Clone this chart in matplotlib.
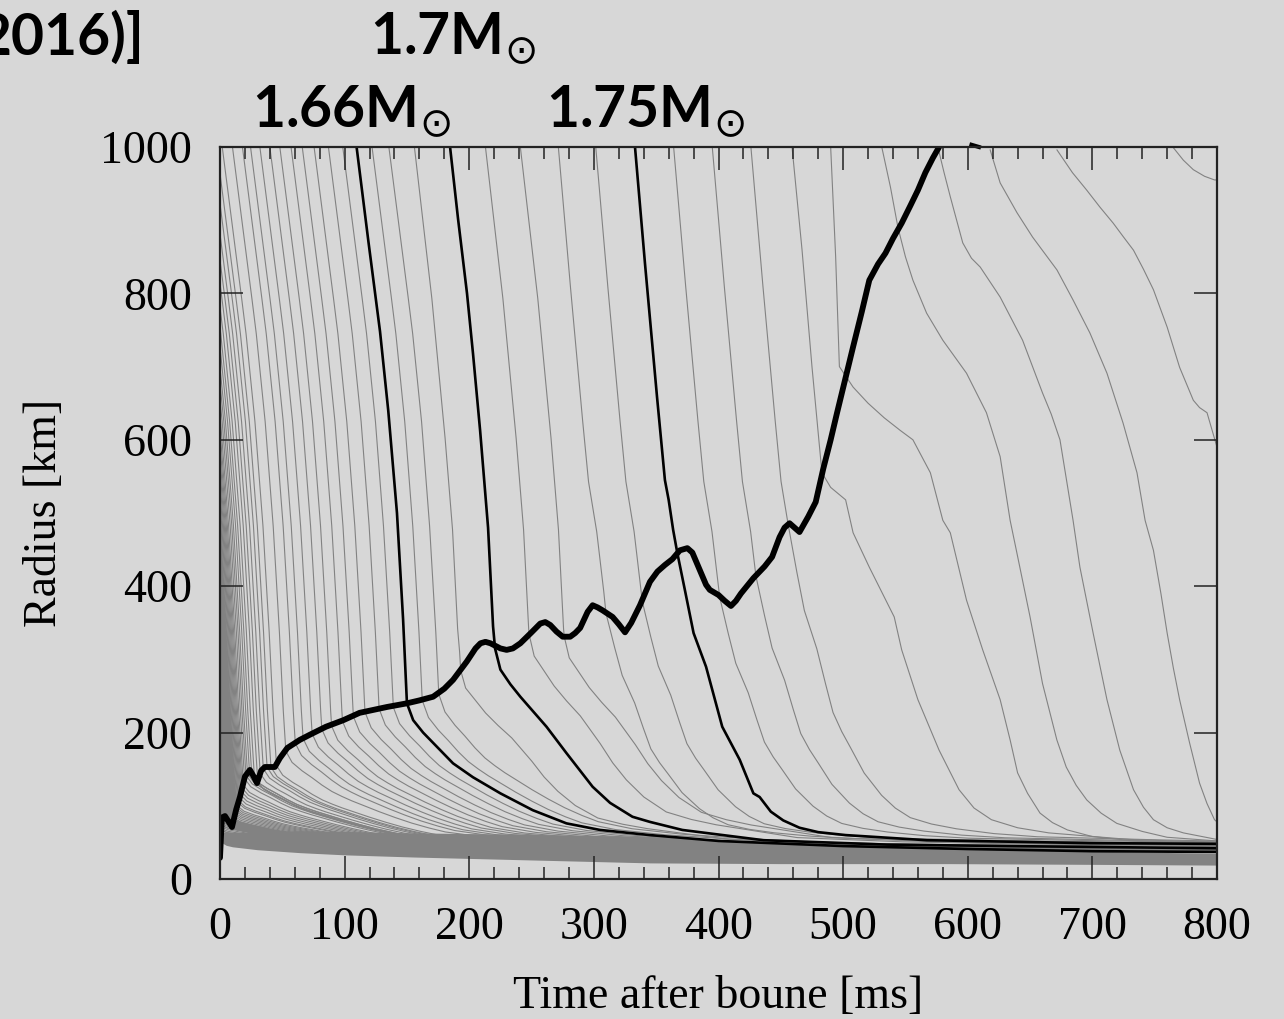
import numpy as np
import matplotlib
matplotlib.use("Agg")
import matplotlib.pyplot as plt
from matplotlib.ticker import MultipleLocator

# ---------------- data ----------------
# shock radius [km] vs time after bounce [ms]
shock_t = [0, 1.5, 4, 7, 9.6, 13, 16, 20, 24, 27, 29.7, 33, 36, 44, 48, 54, 64, 72, 85, 99, 112, 134,
           150, 160, 171, 180, 187, 198, 205, 209, 213, 217, 225, 230, 235, 241, 250, 257, 261, 265,
           270, 275, 281, 285, 289, 295, 299, 303, 307, 315, 320, 325, 330, 337, 345, 351, 357, 363,
           369, 375, 379, 385, 390, 393, 400, 405, 410, 414, 418, 428, 437, 443, 449, 453, 457, 461,
           465, 472, 478, 484, 490, 495, 502, 508, 515, 521, 528, 534, 540, 547, 554, 560, 566, 572, 577]
shock_r = [29, 84, 86, 78, 71, 95, 112, 140, 149, 140, 131, 148, 153, 153, 165, 179, 190, 197, 208, 217, 227, 235,
           240, 244, 249, 260, 272, 297, 315, 322, 324, 322, 315, 313, 315, 322, 337, 349, 351, 347,
           338, 331, 331, 336, 343, 365, 374, 371, 367, 358, 348, 337, 350, 374, 406, 420, 429, 437,
           449, 452, 446, 422, 402, 395, 388, 380, 373, 380, 390, 411, 427, 440, 467, 480, 486, 480,
           474, 495, 515, 560, 600, 636, 685, 727, 775, 818, 840, 855, 875, 896, 920, 941, 965, 985, 1000]

# labelled (black) mass shells
m166_t = [109.6, 119, 128.4, 135, 142, 146.9, 150, 155, 163, 171, 187, 203, 225, 251, 278, 305, 345, 400, 500, 600, 700, 800]
m166_r = [1000, 872, 748, 640, 500, 355, 240, 217, 200, 186, 158, 139, 117, 94, 76, 67, 60, 52, 45, 41, 38, 37]
m170_t = [184.6, 191, 198.2, 203, 208.7, 215.1, 219.1, 220.7, 225, 233, 241, 262, 278, 299, 313, 331, 345, 371, 436, 535, 632, 800]
m170_r = [1000, 902, 800, 718, 613, 480, 345, 315, 286, 266, 249, 208, 172, 126, 104, 85, 78, 67, 53, 47, 45, 42]
m175_t = [333, 341, 350.7, 357, 360, 363.6, 367, 373, 380, 390, 403, 417, 428, 433, 442, 452, 465, 480, 502, 567, 698, 800]
m175_r = [1000, 841, 658, 545, 518, 477, 445, 395, 336, 290, 208, 163, 117, 112, 92, 80, 70, 64, 60, 53, 49, 48]
m180_t = [603, 609]
m180_r = [1003, 1000]

# grey shells: radius at bounce for shells already inside 1000 km (left edge)
fan_r0 = [964, 923, 882, 846, 814, 781, 754, 727, 699, 677, 655, 634, 614, 595, 577, 560, 544, 529,
          515, 501, 488, 476, 464, 453, 442, 432, 422, 412, 403, 394, 386, 378, 370, 362, 355, 348,
          341, 334, 328, 322, 316, 310, 304, 299, 294, 289, 284, 279, 274, 270, 266, 262, 258, 254,
          250, 246, 242, 238, 235, 232, 229, 226, 223, 220, 217, 214, 211, 208, 205, 202, 199, 196,
          193, 190, 187, 184, 181, 178, 175, 172, 169, 166, 163, 160, 157, 154, 151, 148, 145, 142,
          139, 136, 133, 130, 127, 124, 121, 118, 115, 112, 109, 106, 103, 100, 97, 94, 91]
# grey shells: time they pass 1000 km after bounce [ms]
gray_t0 = [1.8, 10, 18, 24.5, 32, 40, 48, 57, 66, 75.5, 87, 98.5, 122, 135.5, 156,
           213, 241, 271.5, 301.5, 364, 395, 426]

# infall shapes (time since passing 1000 km -> radius), read from the black shells
infall166_dt = [0, 10, 18.8, 26, 32.4, 37.3, 40.4, 43, 45.5, 47.5]
infall166_r = [1000, 868, 750, 630, 490, 350, 240, 170, 100, 40]
infall170_dt = [0, 13.6, 24.1, 30.5, 34.5, 36.1, 40, 43]
infall170_r = [1000, 800, 613, 480, 345, 315, 200, 100]
infall175_dt = [0, 8, 17.7, 24, 30.6, 36, 42, 48]
infall175_r = [1000, 841, 658, 545, 477, 400, 300, 200]

# settling shapes behind the shock (fraction of height above floor), read from the black shells
settle166_dt = [0, 5, 13, 21, 29, 37, 45, 53, 64, 75, 88, 101, 115, 128, 155, 195, 250, 300, 450, 800]
settle166_f = [1, 0.885, 0.80, 0.73, 0.655, 0.59, 0.54, 0.495, 0.44, 0.385, 0.325, 0.27, 0.22, 0.18,
               0.135, 0.1, 0.07, 0.05, 0.02, 0.0]
settle170_dt = [0, 4, 12, 20, 30, 41, 49, 57, 67, 78, 92, 110, 130, 150, 215, 300, 400, 800]
settle170_f = [1, 0.9, 0.83, 0.76, 0.69, 0.62, 0.555, 0.49, 0.40, 0.32, 0.24, 0.17, 0.135, 0.11,
               0.05, 0.03, 0.02, 0.0]
settle175_dt = [0, 7, 13, 23, 30, 36, 43, 50, 61, 75, 86, 98, 115, 135, 165, 200, 300, 430, 800]
settle175_f = [1, 0.85, 0.73, 0.61, 0.50, 0.41, 0.35, 0.30, 0.22, 0.15, 0.11, 0.08, 0.06, 0.045,
               0.03, 0.02, 0.01, 0.0, 0.0]
floor166, floor170, floor175 = 40, 42, 49

# late grey shells read one by one
shV_t = [459, 467, 475, 483, 490, 502, 508, 521, 531, 541, 547, 560, 577, 593, 605, 619, 640, 665, 730, 800]
shV_r = [1000, 860, 700, 555, 535, 518, 473, 426, 392, 358, 313, 245, 176, 122, 97, 81, 70, 63, 54, 50]
shU_t = [490, 494, 497, 508, 520, 533, 545.7, 556, 570, 580, 586, 599, 612, 626, 634, 640, 648, 658, 668,
         680, 700, 733, 800]
shU_r = [1000, 850, 700, 672, 650, 630, 613, 600, 555, 490, 473, 381, 313, 245, 190, 145, 117, 90, 77,
         67, 58, 52, 47]
shT_t = [531, 538, 544, 550, 556, 567, 580, 599, 615, 626, 634, 639, 650, 660, 671.5, 679, 687, 695.5,
         707, 719.6, 740, 760, 800]
shT_r = [1000, 945, 890, 850, 818, 773, 736, 691, 637, 577, 490, 449, 358, 267, 190, 153, 128, 108,
         90, 76, 65, 57, 52]
shS_t = [576, 581, 586, 596, 603, 610, 626, 644, 660, 667, 674, 684.5, 690, 700.6, 711.7, 722, 733,
         741, 749, 760, 773, 800]
shS_r = [1000, 965, 932, 869, 848, 836, 795, 736, 664, 635, 600, 490, 426, 336, 245, 176, 122,
         98, 81, 70, 63, 54]
shP_t = [618, 626, 639.6, 652, 671.6, 684.5, 698, 711.7, 724.6, 735.8, 742.3, 749, 755, 760, 765,
         770, 778, 786, 792, 798, 800]
shP_r = [996, 951, 910, 877, 832, 791, 746, 691, 623, 555, 490, 449, 390, 336, 288, 245, 186, 131,
         103, 81, 78]
shQ_t = [671.6, 684, 695.5, 706, 716.7, 725, 733, 741, 749, 760, 770, 781, 786, 792, 800]
shQ_r = [996, 965, 941, 918, 896, 877, 859, 833, 805, 754, 699, 654, 644, 637, 590]
shR_t = [765, 773, 781, 790, 798, 800]
shR_r = [999, 982, 969, 960, 955, 955]

# dense settled layer at the bottom
band_t = [1, 5, 10, 30, 64, 100, 156, 250, 345, 450, 586, 700, 800]
band_lo = [50, 46, 44, 40, 36, 33, 30, 26, 22, 21, 21, 20, 19]
band_hi = [62, 64, 64, 64, 66, 65, 63, 61, 58, 50, 42, 38, 35]

x_ticks = [0, 100, 200, 300, 400, 500, 600, 700, 800]
y_ticks = [0, 200, 400, 600, 800, 1000]
mass_labels = ["1.7M$_{\\odot}$", "1.66M$_{\\odot}$", "1.75M$_{\\odot}$"]
ref_label = "2016)]"
x_label = "Time after boune [ms]"
y_label = "Radius [km]"

# ---------------- drawing ----------------
BG = "#d7d7d7"
GREY = "#828282"
W, H = 1284, 1019
fig = plt.figure(figsize=(W / 100, H / 100), dpi=100, facecolor=BG)
ax = fig.add_axes([220 / W, (H - 879) / H, (1217 - 220) / W, (879 - 147) / H])
ax.set_facecolor(BG)


def shell_path(t0):
    if t0 < 147:
        idt, ir, sdt, sf, fl = infall166_dt, infall166_r, settle166_dt, settle166_f, floor166
    elif t0 < 259:
        idt, ir, sdt, sf, fl = infall170_dt, infall170_r, settle170_dt, settle170_f, floor170
    else:
        idt, ir, sdt, sf, fl = infall175_dt, infall175_r, settle175_dt, settle175_f, floor175
    t_in = t0 + np.asarray(idt, float)
    r_in = np.asarray(ir, float)
    tt = np.linspace(t_in[0], t_in[-1], 600)
    rr = np.interp(tt, t_in, r_in)
    rsh = np.interp(tt, shock_t, shock_r)
    hit = np.where((tt >= 0) & (rr <= rsh))[0]
    if len(hit) == 0:
        return tt, rr
    k = hit[0]
    ts, rs = tt[k], rr[k]
    tp = ts + np.asarray(sdt, float)
    rp = fl + (rs - fl) * np.asarray(sf, float)
    return np.concatenate([tt[:k + 1], tp]), np.concatenate([rr[:k + 1], rp])


fan_t0 = [-float(np.interp(r0, infall166_r[::-1], infall166_dt[::-1])) for r0 in fan_r0]
for t0 in fan_t0 + gray_t0:
    t, r = shell_path(t0)
    ax.plot(t, r, color=GREY, lw=0.8, zorder=1)

for t, r in [(shV_t, shV_r), (shU_t, shU_r), (shT_t, shT_r), (shS_t, shS_r),
             (shP_t, shP_r), (shQ_t, shQ_r), (shR_t, shR_r)]:
    ax.plot(t, r, color=GREY, lw=0.8, zorder=1)

ax.fill_between(band_t, band_lo, band_hi, color=GREY, lw=0, zorder=1.5)

for t, r in [(m166_t, m166_r), (m170_t, m170_r), (m175_t, m175_r)]:
    ax.plot(t, r, color="black", lw=1.9, zorder=3, solid_joinstyle="round")
ax.plot(m180_t, m180_r, color="black", lw=3, zorder=3, clip_on=False)
ax.plot(shock_t, shock_r, color="black", lw=4.2, zorder=4, solid_joinstyle="round",
        solid_capstyle="round")

ax.set_xlim(0, 800)
ax.set_ylim(0, 1000)
ax.set_xticks(x_ticks)
ax.set_yticks(y_ticks)
ax.xaxis.set_minor_locator(MultipleLocator(20))
serif = "Liberation Serif"
ax.set_xticklabels([str(v) for v in x_ticks], family=serif, fontsize=33)
ax.set_yticklabels([str(v) for v in y_ticks], family=serif, fontsize=33)
ax.tick_params(which="both", direction="in", top=True, right=True, color="#222222", width=1.1)
ax.tick_params(which="major", length=16.5, pad=20)
ax.tick_params(which="minor", length=8.6)
for s in ax.spines.values():
    s.set_linewidth(1.6)
    s.set_color("#222222")
    s.set_zorder(5)

ax.set_xlabel(x_label, family=serif, fontsize=33)
ax.xaxis.set_label_coords(0.5, (879 - 997) / 732)
ax.xaxis.label.set_va("center")
ax.set_ylabel(y_label, family=serif, fontsize=33)
ax.yaxis.set_label_coords((45 - 220) / 997, 0.5)
ax.yaxis.label.set_va("center")
ax.yaxis.label.set_ha("center")

bold = dict(family=["Lato", "DejaVu Sans"], fontweight="bold", fontsize=41, va="baseline")
fig.text(145 / W, 1 - 55 / H, ref_label, ha="right", **bold)
fig.text(370 / W, 1 - 55 / H, mass_labels[0], ha="left", **bold)
fig.text(252 / W, 1 - 128 / H, mass_labels[1], ha="left", **bold)
fig.text(546 / W, 1 - 128 / H, mass_labels[2], ha="left", **bold)

fig.savefig("out.png", dpi=100, facecolor=BG)
